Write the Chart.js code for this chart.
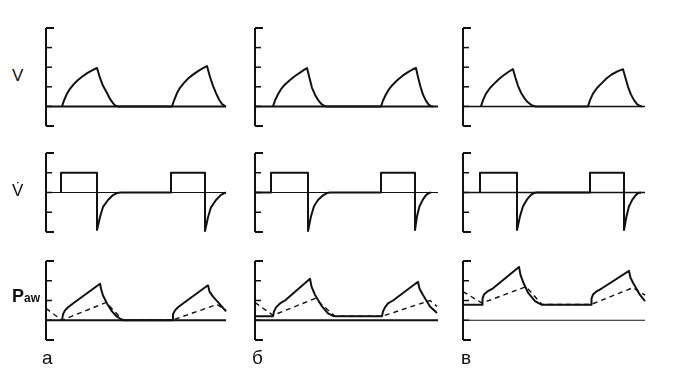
<!DOCTYPE html>
<html><head><meta charset="utf-8">
<script src="https://cdn.jsdelivr.net/npm/chart.js@4/dist/chart.umd.min.js"></script>
<style>
html,body{margin:0;padding:0;background:#fff;}
#wrap{position:relative;width:676px;height:380px;overflow:hidden;font-family:"Liberation Sans",Arial,sans-serif;color:#111;}
canvas{position:absolute;}
.lbl{position:absolute;line-height:1;white-space:nowrap;}
</style></head><body><div id="wrap"></div>
<script>
// ---------- data ----------
const columnLabels = ['а', 'б', 'в'];
const volumeTicks = [-1, 0, 1, 2, 3, 4];
const flowTicks = [-2, -1, 0, 1, 2];
const pressureTicks = [-1, 0, 1, 2, 3];
const timeEnd = [18.0, 18.3, 18.2];

// volume V (time, value)
const volA = [[1.6,0],[1.8,0.3],[2.1,0.65],[2.4,0.9],[2.8,1.15],[3.2,1.35],[3.7,1.55],[4.2,1.72],[4.7,1.86],[5.1,1.96],
  [5.4,1.45],[5.7,1.05],[6.1,0.68],[6.4,0.38],[6.7,0.17],[6.9,0.05],[7.2,0],[12.6,0],
  [12.8,0.3],[13.1,0.68],[13.4,0.95],[13.8,1.2],[14.2,1.42],[14.7,1.62],[15.2,1.8],[15.7,1.95],[16.1,2.06],
  [16.4,1.5],[16.7,1.05],[17.0,0.68],[17.3,0.35],[17.6,0.12],[17.9,0.02],[18.0,0]];
const volB = [[1.8,0],[2.0,0.3],[2.3,0.62],[2.6,0.88],[3.0,1.12],[3.5,1.35],[4.0,1.55],[4.5,1.72],[4.9,1.86],[5.2,1.96],
  [5.45,1.45],[5.7,0.95],[6.0,0.6],[6.3,0.33],[6.6,0.14],[6.9,0.03],[7.1,0],[12.6,0],
  [12.8,0.3],[13.1,0.62],[13.4,0.88],[13.8,1.12],[14.3,1.37],[14.8,1.58],[15.3,1.75],[15.7,1.87],[16.1,1.96],
  [16.3,1.5],[16.55,1.0],[16.8,0.6],[17.1,0.28],[17.35,0.1],[17.6,0.01],[17.8,0]];
const volC = [[1.8,0],[2.0,0.32],[2.3,0.65],[2.7,0.94],[3.1,1.15],[3.6,1.4],[4.1,1.6],[4.6,1.78],[5.0,1.9],
  [5.25,1.45],[5.5,1.05],[5.8,0.7],[6.1,0.45],[6.4,0.25],[6.8,0.08],[7.2,0],[12.5,0],
  [12.7,0.32],[13.0,0.65],[13.4,0.94],[13.9,1.2],[14.4,1.45],[14.9,1.64],[15.5,1.8],[16.0,1.9],
  [16.25,1.45],[16.5,1.0],[16.8,0.6],[17.1,0.32],[17.4,0.12],[17.7,0.02],[17.9,0]];

// flow V-dot (time, value)
const flowA = [[1.5,0],[1.5,1],[5.1,1],[5.1,-1.9],[5.4,-1.24],[5.7,-0.73],[6.2,-0.38],[6.7,-0.13],[7.1,-0.03],[7.5,0],
  [12.5,0],[12.5,1],[15.9,1],[15.9,-1.95],[16.2,-1.25],[16.5,-0.75],[17.0,-0.38],[17.5,-0.12],[17.9,-0.02],[18.0,0]];
const flowB = [[0,0],[1.6,0],[1.6,1],[5.3,1],[5.3,-1.95],[5.6,-1.2],[5.9,-0.7],[6.3,-0.38],[6.8,-0.14],[7.2,-0.03],[7.5,0],
  [12.6,0],[12.6,1],[16.0,1],[16.0,-1.9],[16.2,-1.2],[16.45,-0.7],[16.8,-0.35],[17.1,-0.13],[17.4,-0.02],[17.6,0]];
const flowC = [[1.7,0],[1.7,1],[5.4,1],[5.4,-1.9],[5.7,-1.2],[6.0,-0.7],[6.4,-0.35],[6.8,-0.12],[7.1,-0.03],[7.4,0],
  [12.7,0],[12.7,1],[16.1,1],[16.1,-1.9],[16.35,-1.2],[16.6,-0.7],[16.95,-0.35],[17.3,-0.12],[17.55,-0.02],[17.8,0]];

// airway pressure Paw (solid) and alveolar pressure (dashed)
const pawA = [[1.6,0],[1.7,0.3],[1.9,0.5],[2.2,0.66],[2.7,0.85],[5.4,1.85],[5.55,1.5],[5.7,1.25],[6.1,0.85],[6.6,0.45],[7.1,0.18],[7.5,0.05],[7.7,0],
  [12.6,0],[12.7,0.3],[12.9,0.5],[13.2,0.66],[13.7,0.85],[16.2,1.77],[16.35,1.45],[16.7,1.2],[17.4,0.8],[18.0,0.45]];
const alvA = [[0,0.6],[1.6,0],[6.0,0.9],[7.7,0],[12.6,0],[17.1,0.8],[18.0,0.5]];
const pawB = [[0,0.2],[1.8,0.2],[1.9,0.45],[2.1,0.65],[2.5,0.85],[3.0,1.0],[5.5,2.1],[5.65,1.7],[6.0,1.28],[6.7,0.7],[7.3,0.35],[7.8,0.22],[8.2,0.2],
  [12.7,0.2],[12.8,0.45],[13.0,0.65],[13.3,0.85],[13.8,1.0],[16.3,1.95],[16.45,1.6],[16.8,1.28],[17.5,0.7],[18.2,0.37]];
const alvB = [[0,0.9],[1.8,0.25],[6.0,1.1],[8.0,0.2],[12.7,0.2],[17.5,1.0],[18.2,0.7]];
const pawC = [[0,0.78],[1.9,0.78],[1.95,1.1],[2.1,1.3],[2.5,1.48],[3.0,1.62],[5.6,2.7],[5.75,2.3],[6.0,1.95],[6.5,1.4],[7.2,0.97],[7.6,0.85],[7.9,0.78],
  [12.8,0.78],[12.85,1.1],[13.0,1.3],[13.4,1.48],[13.9,1.62],[16.6,2.5],[16.75,2.15],[17.0,1.9],[17.7,1.28],[18.2,0.97]];
const alvC = [[0,1.45],[1.9,0.87],[6.3,1.7],[7.9,0.8],[12.8,0.8],[17.0,1.65],[18.2,1.27]];

// ---------- layout ----------
const axisX = [46, 255, 463];
const rows = [
  {top: 28, bottom: 126, min: -1, max: 4, ticks: volumeTicks, series: [volA, volB, volC], dashed: null, base: [2, 2, 1.5]},
  {top: 153, bottom: 232, min: -2, max: 2, ticks: flowTicks, series: [flowA, flowB, flowC], dashed: null, base: [1, 1, 1.5]},
  {top: 261, bottom: 340, min: -1, max: 3, ticks: pressureTicks, series: [pawA, pawB, pawC], dashed: [alvA, alvB, alvC], base: [2, 2, 1]}
];
const XMAX = 18.3, PXU = 10, PAD = 8;
const INK = '#111';

const framePlugin = {
  id: 'frame',
  beforeDatasetsDraw(chart, args, o) {
    const {ctx, scales: {x, y}} = chart;
    const ax = x.getPixelForValue(0);
    ctx.save();
    ctx.strokeStyle = INK;
    ctx.lineCap = 'butt';
    // baseline
    ctx.lineWidth = o.baseWidth;
    ctx.beginPath();
    ctx.moveTo(ax, y.getPixelForValue(0));
    ctx.lineTo(x.getPixelForValue(o.end), y.getPixelForValue(0));
    ctx.stroke();
    // axis
    ctx.lineWidth = 2;
    ctx.beginPath();
    ctx.moveTo(ax, y.getPixelForValue(o.max));
    ctx.lineTo(ax, y.getPixelForValue(o.min));
    ctx.stroke();
    // inward ticks
    o.ticks.forEach(v => {
      const py = y.getPixelForValue(v);
      const len = (v === o.max || v === o.min) ? 8 : 6;
      ctx.lineWidth = (v === o.max || v === o.min) ? 2 : 1.5;
      ctx.beginPath();
      ctx.moveTo(ax, py);
      ctx.lineTo(ax + len, py);
      ctx.stroke();
    });
    ctx.restore();
  }
};

const wrap = document.getElementById('wrap');
const toXY = a => a.map(p => ({x: p[0], y: p[1]}));

rows.forEach((r, ri) => {
  for (let c = 0; c < 3; c++) {
    const cv = document.createElement('canvas');
    const w = XMAX * PXU + 2 * PAD, h = (r.bottom - r.top) + 2 * PAD;
    cv.width = w; cv.height = h;
    cv.style.left = (axisX[c] - PAD) + 'px';
    cv.style.top = (r.top - PAD) + 'px';
    cv.style.width = w + 'px'; cv.style.height = h + 'px';
    wrap.appendChild(cv);
    const datasets = [];
    if (r.dashed) datasets.push({data: toXY(r.dashed[c]), borderColor: INK, borderWidth: 1.4, borderDash: [5, 4], pointRadius: 0, tension: 0, fill: false, clip: false});
    datasets.push({data: toXY(r.series[c]), borderColor: INK, borderWidth: 2, pointRadius: 0, tension: 0, fill: false, clip: false, borderJoinStyle: 'round'});
    new Chart(cv, {
      type: 'line',
      data: {datasets},
      options: {
        responsive: false, animation: false, devicePixelRatio: 1,
        layout: {padding: PAD},
        plugins: {legend: {display: false}, tooltip: {enabled: false},
          frame: {ticks: r.ticks, min: r.min, max: r.max, end: timeEnd[c], baseWidth: r.base[c]}},
        scales: {
          x: {type: 'linear', min: 0, max: XMAX, display: false},
          y: {type: 'linear', min: r.min, max: r.max, display: false}
        },
        events: []
      },
      plugins: [framePlugin]
    });
  }
});

// ---------- text ----------
function label(html, left, top, size, weight) {
  const d = document.createElement('div');
  d.className = 'lbl';
  d.innerHTML = html;
  d.style.left = left + 'px'; d.style.top = top + 'px';
  d.style.fontSize = size + 'px';
  if (weight) d.style.fontWeight = weight;
  wrap.appendChild(d);
}
label('V', 12, 67, 17);
label('V\u0307', 12, 182, 17);
label('P<span style="font-size:12px">aw</span>', 12, 287, 18, 'bold');
const bottomX = [42, 252, 461];
columnLabels.forEach((t, i) => label(t, bottomX[i], 348, 19));
</script>
</body></html>
